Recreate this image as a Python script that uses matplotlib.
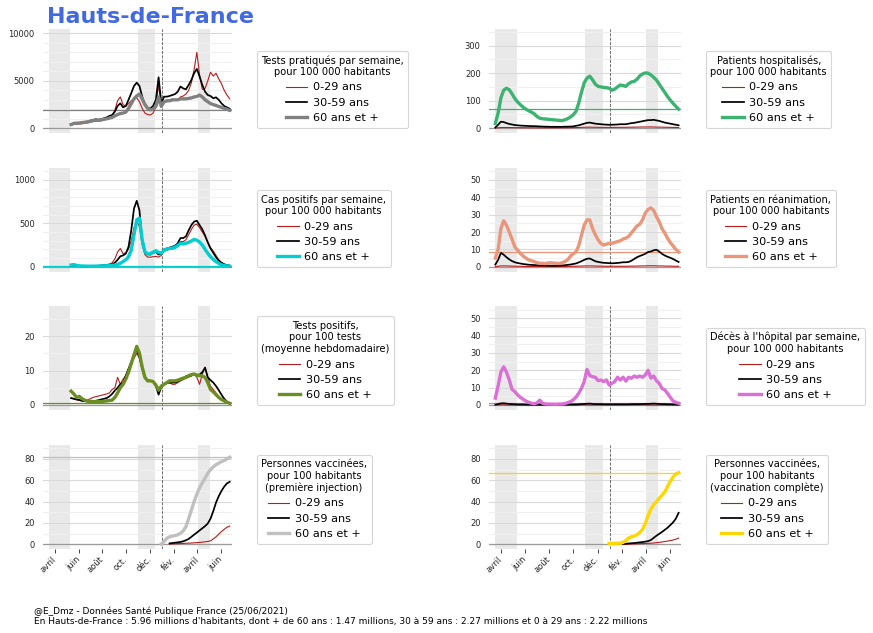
import numpy as np
import pandas as pd
import matplotlib
matplotlib.use("Agg")
import matplotlib.pyplot as plt
from matplotlib.ticker import MultipleLocator, AutoMinorLocator

nan = np.nan

# --- dates (weekly points) ---
hosp_start, hosp_n = "2020-03-18", 67
test_start, test_n = "2020-05-13", 59
vacc_start, vacc_n = "2020-12-30", 26

# --- tests pratiqués / semaine / 100 000 hab ---
tests_0_29 = [300, 420, 430, 450, 480, 520, 560, 640, 720, 780,
              760, 800, 880, 950, 1100, 1300, 1900, 2900, 3300, 2500,
              2300, 2600, 2900, 3100, 3200, 2800, 2100, 1600, 1450, 1400,
              1600, 2300, 4600, 2300, 2700, 2800, 2850, 2900, 2950, 3000,
              3300, 3400, 3600, 4000, 4800, 6200, 8000, 5600, 4100, 4200,
              5000, 5900, 5500, 5800, 5200, 4700, 4000, 3500, 3100]
tests_30_59 = [400, 530, 530, 560, 600, 650, 700, 800, 880, 950,
               900, 950, 1050, 1150, 1300, 1400, 1750, 2350, 2630, 2200,
               2350, 3000, 3700, 4450, 4800, 4450, 3330, 2460, 2100, 2100,
               2350, 3000, 5370, 2630, 3330, 3330, 3400, 3500, 3600, 3850,
               4400, 4200, 4100, 4560, 5090, 5800, 6250, 5440, 4560, 3850,
               3500, 3400, 3160, 3260, 3000, 2630, 2350, 2200, 2070]
tests_60 = [400, 520, 540, 560, 600, 640, 680, 740, 800, 850,
            850, 880, 950, 1000, 1080, 1150, 1300, 1450, 1550, 1600,
            1700, 2100, 2600, 3100, 3400, 3600, 3100, 2500, 2100, 1950,
            2000, 2300, 3300, 2300, 2800, 2900, 2900, 3000, 3000, 3000,
            3100, 3100, 3100, 3150, 3200, 3300, 3350, 3500, 3300, 3000,
            2800, 2600, 2500, 2400, 2300, 2200, 2100, 2000, 1900]

# --- cas positifs / semaine / 100 000 hab ---
cas_0_29 = [12, 15, 10, 7, 6, 6, 7, 8, 10, 12,
            14, 17, 20, 25, 30, 45, 90, 170, 210, 150,
            160, 200, 300, 450, 520, 460, 250, 140, 110, 110,
            115, 120, 110, 130, 180, 190, 200, 205, 210, 240,
            290, 290, 310, 370, 430, 480, 490, 450, 400, 350,
            280, 220, 180, 130, 80, 50, 30, 20, 14]
cas_30_59 = [15, 18, 12, 8, 6, 5, 5, 6, 7, 8,
             10, 12, 15, 18, 22, 30, 45, 80, 120, 130,
             150, 230, 420, 670, 760, 650, 310, 175, 145, 140,
             160, 170, 140, 150, 200, 210, 220, 230, 240, 270,
             330, 330, 350, 420, 480, 520, 530, 480, 430, 360,
             280, 210, 160, 110, 70, 45, 28, 18, 12]
cas_60 = [20, 25, 15, 10, 8, 7, 6, 6, 6, 7,
          8, 9, 10, 12, 14, 16, 20, 25, 40, 60,
          80, 115, 190, 365, 540, 560, 310, 175, 146, 150,
          170, 185, 165, 155, 190, 205, 210, 215, 222, 245,
          270, 262, 270, 281, 296, 315, 305, 285, 250, 200,
          155, 115, 85, 58, 38, 22, 14, 9, 6]

# --- tests positifs pour 100 tests ---
tp_0_29 = [2.0, 1.8, 1.5, 1.3, 1.2, 1.2, 1.5, 1.8, 2.2, 2.4,
           2.6, 2.8, 3.0, 3.2, 3.5, 4.5, 5.0, 8.0, 6.0, 7.5,
           8.5, 10.0, 12.0, 13.5, 15.0, 13.5, 10.5, 8.0, 7.0, 7.0,
           6.5, 5.5, 4.5, 5.5, 6.0, 6.5, 6.5, 6.0, 6.0, 6.5,
           7.0, 7.5, 8.5, 8.5, 9.0, 9.0, 8.0, 6.0, 9.0, 11.0,
           8.0, 5.5, 4.5, 3.5, 2.5, 1.6, 1.0, 0.7, 0.5]
tp_30_59 = [2.0, 1.8, 1.6, 1.5, 1.2, 1.1, 1.0, 1.0, 1.1, 1.2,
            1.4, 1.6, 1.8, 2.0, 2.5, 3.2, 4.2, 5.0, 6.0, 6.5,
            8.5, 10.5, 12.5, 14.5, 16.0, 14.0, 10.5, 8.0, 7.2, 7.0,
            6.8, 5.5, 3.0, 5.2, 6.0, 6.3, 6.5, 6.5, 6.5, 6.8,
            7.2, 7.5, 8.0, 8.2, 8.5, 9.0, 8.8, 8.8, 9.5, 10.8,
            8.0, 7.2, 6.5, 5.5, 4.3, 3.0, 1.8, 1.0, 0.5]
tp_60 = [4.0, 3.2, 2.2, 2.5, 1.8, 1.4, 1.2, 1.0, 1.0, 1.0,
         1.0, 1.0, 1.1, 1.2, 1.3, 1.4, 2.2, 3.5, 5.0, 6.0,
         7.5, 9.5, 12.0, 14.5, 17.0, 15.0, 11.0, 8.0, 7.0, 7.0,
         6.8, 5.8, 4.3, 5.5, 6.0, 6.5, 7.0, 7.0, 7.0, 7.2,
         7.5, 7.8, 8.0, 8.5, 8.8, 9.0, 8.6, 8.5, 8.4, 8.0,
         6.5, 4.5, 3.8, 3.0, 2.2, 1.6, 1.2, 0.8, 0.5]

# --- patients hospitalisés / 100 000 hab ---
hosp_0_29 = [0.5, 1.0, 1.8, 2.0, 2.0, 1.8, 1.7, 1.6, 1.5, 1.4,
             1.3, 1.2, 1.1, 1.0, 1.0, 1.0, 1.0, 0.9, 0.9, 0.9,
             0.9, 0.9, 1.0, 1.0, 1.0, 1.1, 1.2, 1.3, 1.5, 1.8,
             2.2, 2.6, 3.0, 3.2, 3.3, 3.1, 2.9, 2.7, 2.6, 2.5,
             2.5, 2.4, 2.4, 2.5, 2.6, 2.7, 2.8, 2.8, 3.0, 3.2,
             3.3, 3.5, 3.7, 3.9, 4.0, 4.1, 4.0, 3.8, 3.6, 3.4,
             3.2, 3.0, 2.8, 2.6, 2.4, 2.2, 2.0]
hosp_30_59 = [2, 12, 23, 22, 18, 15, 13, 11, 10, 9,
              8.5, 8, 7.5, 7, 7, 6.5, 6, 5.5, 5, 5,
              4.5, 4.5, 4.5, 4.5, 4.5, 5, 5, 5.5, 6, 8,
              10, 13, 16, 19, 20, 18, 16, 15, 14, 13,
              12.5, 12, 12, 12.5, 13, 14, 14, 14, 16, 18,
              19, 21, 23, 25, 27, 29, 29, 30, 28, 26,
              23, 20, 18, 16, 14, 12, 10]
hosp_60 = [17, 55, 110, 138, 145, 140, 125, 108, 95, 85,
           76, 69, 63, 58, 52, 42, 36, 34, 33, 32,
           31, 30, 29, 28, 27, 30, 34, 40, 48, 60,
           90, 130, 165, 182, 189, 176, 160, 152, 150, 148,
           147, 145, 138, 142, 150, 157, 155, 152, 162, 168,
           170, 178, 190, 197, 201, 200, 194, 185, 175, 160,
           145, 130, 115, 102, 90, 79, 69]

# --- patients en réanimation / 100 000 hab ---
rea_0_29 = [0.1, 0.3, 0.5, 0.5, 0.5, 0.4, 0.4, 0.3, 0.3, 0.3,
            0.2, 0.2, 0.2, 0.2, 0.2, 0.2, 0.2, 0.2, 0.2, 0.2,
            0.2, 0.2, 0.2, 0.2, 0.2, 0.2, 0.2, 0.3, 0.3, 0.3,
            0.4, 0.4, 0.5, 0.5, 0.5, 0.5, 0.4, 0.4, 0.4, 0.3,
            0.3, 0.3, 0.3, 0.3, 0.3, 0.3, 0.3, 0.3, 0.3, 0.4,
            0.4, 0.4, 0.5, 0.5, 0.5, 0.6, 0.6, 0.6, 0.5, 0.5,
            0.5, 0.4, 0.4, 0.4, 0.3, 0.3, 0.3]
rea_30_59 = [1.3, 4.0, 8.0, 7.0, 5.5, 4.3, 3.3, 2.6, 2.2, 1.9,
             1.6, 1.4, 1.2, 1.1, 1.0, 0.9, 0.8, 0.8, 0.7, 0.7,
             0.6, 0.6, 0.6, 0.7, 0.8, 0.9, 1.1, 1.3, 1.6, 1.9,
             2.5, 3.2, 4.0, 4.6, 4.8, 4.0, 3.2, 2.8, 2.5, 2.3,
             2.2, 2.1, 2.0, 2.1, 2.2, 2.4, 2.6, 2.6, 2.8, 3.5,
             4.5, 5.5, 6.2, 6.8, 7.5, 8.5, 8.8, 9.5, 9.8, 8.8,
             7.5, 6.5, 5.8, 5.2, 4.5, 3.6, 2.8]
rea_60 = [5, 10, 22, 26.5, 24, 20, 16, 11.5, 9.6, 7.7,
          6.2, 5, 4, 3.5, 3, 2.4, 2, 2, 1.8, 2.2,
          2.3, 2.1, 2, 1.9, 2.3, 3, 4, 6, 7.5, 8.5,
          12, 18, 24, 27, 27, 22, 18.5, 15.5, 13.5, 12.5,
          13, 13.5, 13.5, 14, 14.5, 15, 16, 16.5, 17.5, 19.5,
          21.5, 23.5, 24.5, 27, 31, 33, 34, 32.5, 29, 26,
          22, 19.5, 16.5, 14, 12, 10, 8.5]

# --- décès à l'hôpital / semaine / 100 000 hab ---
deces_0_29 = [0.0, 0.0, 0.1, 0.1, 0.0, 0.0, 0.0, 0.0, 0.0, 0.0,
              0.0, 0.0, 0.0, 0.0, 0.0, 0.0, 0.0, 0.0, 0.0, 0.0,
              0.0, 0.0, 0.0, 0.0, 0.0, 0.0, 0.0, 0.0, 0.0, 0.0,
              0.0, 0.1, 0.1, 0.1, 0.0, 0.0, 0.0, 0.0, 0.0, 0.0,
              0.0, 0.0, 0.0, 0.0, 0.0, 0.0, 0.0, 0.0, 0.0, 0.0,
              0.0, 0.0, 0.0, 0.1, 0.1, 0.0, 0.0, 0.0, 0.0, 0.0,
              0.0, 0.0, 0.0, 0.0, 0.0, 0.0, 0.0]
deces_30_59 = [0.2, 0.5, 0.9, 1.0, 0.8, 0.6, 0.5, 0.4, 0.3, 0.3,
               0.3, 0.2, 0.2, 0.2, 0.2, 0.2, 0.2, 0.2, 0.2, 0.2,
               0.2, 0.2, 0.2, 0.2, 0.2, 0.2, 0.2, 0.3, 0.3, 0.3,
               0.4, 0.5, 0.6, 0.7, 0.8, 0.6, 0.5, 0.5, 0.5, 0.4,
               0.4, 0.4, 0.4, 0.4, 0.4, 0.4, 0.4, 0.4, 0.4, 0.5,
               0.5, 0.5, 0.5, 0.6, 0.6, 0.6, 0.7, 0.8, 0.7, 0.6,
               0.5, 0.5, 0.4, 0.4, 0.3, 0.3, 0.2]
deces_60 = [4, 11, 19, 22, 19, 14.5, 9, 7.7, 5.8, 4.4,
            3.3, 2.3, 1.5, 1.0, 0.7, 1.2, 2.8, 1.0, 0.6, 0.5,
            0.5, 0.4, 0.4, 0.5, 0.5, 0.8, 1.3, 1.9, 2.9, 4.4,
            6.7, 9.6, 13.5, 20.5, 17, 16.3, 16, 14, 14.4, 13.5,
            14.4, 11.5, 12.5, 13.5, 16, 14.4, 16, 13.8, 16, 15.4,
            16.7, 16, 16.7, 16, 17.3, 20, 15.5, 16.7, 14, 12.5,
            9.6, 8.7, 6.7, 4.4, 2.3, 1.5, 1.0]

# --- vaccination (pour 100 habitants) ---
vac1_0_29 = [nan, nan, nan, 0.3, 0.4, 0.5, 0.6, 0.7, 0.8, 1.0, 1.1, 1.2, 1.4,
             1.6, 1.8, 2.0, 2.3, 2.7, 3.2, 5.0, 7.0, 9.5, 12, 14, 16, 17]
vac1_30_59 = [nan, nan, nan, 0.8, 1.2, 1.5, 1.8, 2.2, 2.8, 3.8, 5.0, 7.0, 9.0,
              11.0, 13.0, 15.0, 17.0, 19.5, 24, 31, 39, 45, 50, 54, 57, 58.5]
vac1_60 = [0.3, 2.5, 5.6, 7.0, 7.6, 8.2, 8.9, 10.3, 12.5, 16.5, 24, 32, 40,
           47, 53, 57.5, 62, 66.5, 70, 72.5, 74.5, 76, 77.3, 78.5, 80, 81.5]
vac2_0_29 = [nan, nan, nan, nan, nan, 0.1, 0.2, 0.3, 0.3, 0.4, 0.5, 0.6, 0.7,
             0.8, 0.9, 1.0, 1.2, 1.5, 1.8, 2.2, 2.6, 3.0, 3.5, 4.0, 4.8, 5.8]
vac2_30_59 = [nan, nan, nan, nan, nan, 0.3, 0.5, 0.8, 1.0, 1.2, 1.5, 1.8, 2.1,
              2.5, 3.0, 4.0, 6.0, 8.0, 9.8, 11.5, 13.5, 15.5, 18, 20.5, 24, 29.5]
vac2_60 = [0.8, 0.9, 1.0, 1.0, 1.1, 1.8, 3.5, 5.8, 7.0, 7.8, 9.0, 11.0, 14.0,
           19.5, 27, 33, 37, 40, 43, 46, 49, 54, 59, 63, 66, 67]

confinements = [("2020-03-17", "2020-05-11"), ("2020-10-30", "2020-12-15"),
                ("2021-04-03", "2021-05-03")]
month_ticks = ["2020-04-01", "2020-06-01", "2020-08-01", "2020-10-01",
               "2020-12-01", "2021-02-01", "2021-04-01", "2021-06-01"]
month_labels = ["avril", "juin", "août", "oct.", "déc.", "fév.", "avril", "juin"]

hosp_dates = pd.date_range(hosp_start, periods=hosp_n, freq="7D")
test_dates = pd.date_range(test_start, periods=test_n, freq="7D")
vacc_dates = pd.date_range(vacc_start, periods=vacc_n, freq="7D")

fig = plt.figure(figsize=(8.73, 6.33), dpi=100)
W, H = 873, 633


def panel(left, top, width, dates, y0, y1, y2, color, title, ylim, major, nminor, show_x):
    ax = fig.add_axes([left / W, 1 - (top + 104) / H, width / W, 104 / H])
    for a, b in confinements:
        ax.axvspan(pd.Timestamp(a), pd.Timestamp(b), color="#e9e9e9", lw=0, zorder=0)
    ax.axvline(pd.Timestamp("2021-01-01"), color="#555555", ls="--", lw=0.6, zorder=1)
    ax.axhline(0, color="#9a9a9a", lw=0.9, zorder=1)
    ax.axhline(y2[-1], color=color, lw=0.9, zorder=1)
    ax.plot(dates, y0, color="#b81c1c", lw=0.8, label="0-29 ans", zorder=3)
    ax.plot(dates, y1, color="black", lw=1.25, label="30-59 ans", zorder=4)
    ax.plot(dates, y2, color=color, lw=2.4, label="60 ans et +", zorder=5)

    ax.set_xlim(pd.Timestamp("2020-03-02"), pd.Timestamp("2021-06-29"))
    ax.set_ylim(*ylim)
    ax.yaxis.set_major_locator(MultipleLocator(major))
    ax.yaxis.set_minor_locator(AutoMinorLocator(nminor))
    ax.grid(axis="y", which="major", color="#dadada", lw=0.8)
    ax.grid(axis="y", which="minor", color="#f0f0f0", lw=0.8)
    ax.set_axisbelow(True)
    for s in ax.spines.values():
        s.set_visible(False)
    ax.tick_params(axis="y", which="both", length=0, pad=6, labelsize=6, labelcolor="#262626")
    ax.set_xticks([pd.Timestamp(t) for t in month_ticks])
    if show_x:
        ax.tick_params(axis="x", which="major", length=3, width=0.7, color="#444444",
                       pad=3.5, labelsize=6, labelcolor="#262626")
        ax.set_xticklabels(month_labels, rotation=45, ha="right", va="center",
                           rotation_mode="anchor")
    else:
        ax.tick_params(axis="x", which="both", length=0)
        ax.set_xticklabels([])

    leg = ax.legend(title=title, loc="lower left", bbox_to_anchor=(1.13, 0.05),
                    borderaxespad=0, fontsize=8.1, title_fontsize=7.1,
                    labelspacing=0.48, handlelength=1.9, handletextpad=0.5,
                    alignment="center", frameon=True, fancybox=True,
                    edgecolor="#cccccc")
    leg.get_title().set_multialignment("center")
    leg.get_frame().set_linewidth(0.8)
    return ax


tops = [29, 168, 306, 445]
LX, LW = 43, 189
RX, RW = 489, 192

panel(LX, tops[0], LW, test_dates, tests_0_29, tests_30_59, tests_60, "grey",
      "Tests pratiqués par semaine,\npour 100 000 habitants", (-495, 10450), 5000, 5, False)
panel(LX, tops[1], LW, test_dates, cas_0_29, cas_30_59, cas_60, "darkturquoise",
      "Cas positifs par semaine,\npour 100 000 habitants", (-61, 1138), 500, 5, False)
panel(LX, tops[2], LW, test_dates, tp_0_29, tp_30_59, tp_60, "olivedrab",
      "Tests positifs,\npour 100 tests\n(moyenne hebdomadaire)", (-1.45, 28.7), 10, 2, False)
panel(LX, tops[3], LW, vacc_dates, vac1_0_29, vac1_30_59, vac1_60, "silver",
      "Personnes vaccinées,\npour 100 habitants\n(première injection)", (-4.4, 93), 20, 2, True)

panel(RX, tops[0], RW, hosp_dates, hosp_0_29, hosp_30_59, hosp_60, "mediumseagreen",
      "Patients hospitalisés,\npour 100 000 habitants", (-18, 361), 100, 2, False)
panel(RX, tops[1], RW, hosp_dates, rea_0_29, rea_30_59, rea_60, "darksalmon",
      "Patients en réanimation,\npour 100 000 habitants", (-3, 56.9), 10, 2, False)
panel(RX, tops[2], RW, hosp_dates, deces_0_29, deces_30_59, deces_60, "orchid",
      "Décès à l'hôpital par semaine,\npour 100 000 habitants", (-2.9, 57.1), 10, 2, False)
panel(RX, tops[3], RW, vacc_dates, vac2_0_29, vac2_30_59, vac2_60, "gold",
      "Personnes vaccinées,\npour 100 habitants\n(vaccination complète)", (-4.4, 93), 20, 2, True)

fig.text(47 / W, 1 - 23 / H, "Hauts-de-France", color="royalblue", fontsize=16,
         fontweight="bold", ha="left", va="baseline")
fig.text(34 / W, 1 - 614 / H, "@E_Dmz - Données Santé Publique France (25/06/2021)",
         fontsize=6.5, ha="left", va="baseline")
fig.text(34 / W, 1 - 624 / H,
         "En Hauts-de-France : 5.96 millions d'habitants, dont + de 60 ans : 1.47 millions, "
         "30 à 59 ans : 2.27 millions et 0 à 29 ans : 2.22 millions",
         fontsize=6.5, ha="left", va="baseline")

fig.savefig("out.png", dpi=100)
